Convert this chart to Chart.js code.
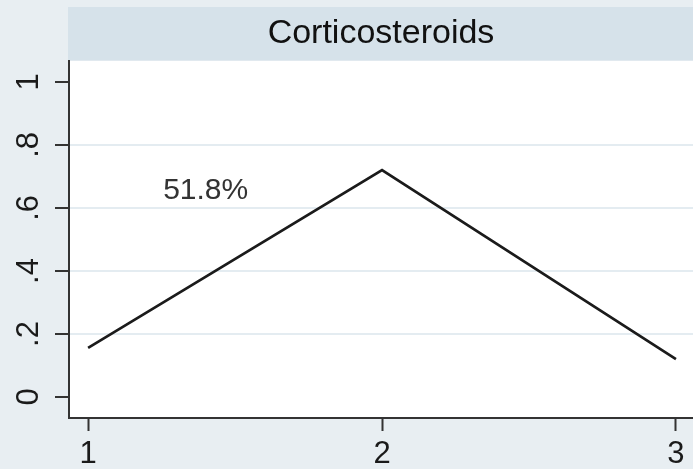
<!DOCTYPE html>
<html><head><meta charset="utf-8">
<script src="https://cdn.jsdelivr.net/npm/chart.js@4/dist/chart.umd.min.js"></script>
<style>html,body{margin:0;padding:0;background:#e8eef2;overflow:hidden}#wrap{width:693px;height:469px}</style>
</head><body><div id="wrap"><canvas id="c" width="693" height="469"></canvas></div>
<script>
const titleText = "Corticosteroids";
const xValues = [1, 2, 3];
const yValues = [0.156, 0.72, 0.12];
const xTicks = [1, 2, 3];
const xTickLabels = ["1", "2", "3"];
const yTicks = [0, 0.2, 0.4, 0.6, 0.8, 1];
const yTickLabels = ["0", ".2", ".4", ".6", ".8", "1"];
const annotationText = ["51.8%"];
const annotationX = [1.40];
const annotationY = [0.655];

const FONT = "'Liberation Sans', Arial, Helvetica, sans-serif";

const bgPlugin = {
  id: 'bg',
  beforeDraw(chart) {
    const {ctx, chartArea: ca} = chart;
    ctx.save();
    ctx.fillStyle = '#e8eef2';
    ctx.fillRect(0, 0, chart.width, chart.height);
    ctx.fillStyle = '#d6e2ea';
    ctx.fillRect(ca.left - 1, 7, chart.width - ca.left + 1, ca.top - 7);
    ctx.fillStyle = '#ffffff';
    ctx.fillRect(ca.left, ca.top, ca.right - ca.left, ca.bottom - ca.top);
    ctx.restore();
  }
};

const annotPlugin = {
  id: 'annot',
  afterDatasetsDraw(chart) {
    const {ctx, scales} = chart;
    ctx.save();
    ctx.font = '30px ' + FONT;
    ctx.fillStyle = '#333333';
    ctx.textAlign = 'center';
    ctx.textBaseline = 'middle';
    annotationText.forEach((t, i) => {
      ctx.fillText(t, scales.x.getPixelForValue(annotationX[i]), scales.y.getPixelForValue(annotationY[i]));
    });
    ctx.restore();
  }
};

new Chart(document.getElementById('c'), {
  type: 'line',
  data: {
    datasets: [{
      data: xValues.map((x, i) => ({x: x, y: yValues[i]})),
      borderColor: '#1b1b1b',
      borderWidth: 2.7,
      pointRadius: 0,
      tension: 0,
      fill: false
    }]
  },
  options: {
    responsive: false,
    devicePixelRatio: 1,
    animation: false,
    layout: {padding: 0},
    plugins: {
      legend: {display: false},
      tooltip: {enabled: false},
      title: {
        display: true,
        text: titleText,
        fullSize: false,
        color: '#111111',
        font: {size: 34, family: FONT, weight: 'normal'},
        padding: {top: 13, bottom: 7}
      }
    },
    scales: {
      x: {
        type: 'linear',
        position: 'bottom',
        min: 0.935,
        max: 3.058,
        afterBuildTicks: s => { s.ticks = xTicks.map(v => ({value: v})); },
        afterFit: s => { s.height = 51; },
        ticks: {
          autoSkip: false, maxRotation: 0, minRotation: 0,
          color: '#1a1a1a',
          font: {size: 31, family: FONT},
          padding: 5,
          callback: (v) => xTickLabels[xTicks.indexOf(v)]
        },
        grid: {drawOnChartArea: false, drawTicks: true, tickLength: 13, tickColor: '#333333', tickWidth: 2},
        border: {display: true, color: '#333333', width: 2}
      },
      y: {
        type: 'linear',
        position: 'left',
        min: -0.0667,
        max: 1.067,
        afterBuildTicks: s => { s.ticks = yTicks.map(v => ({value: v})); },
        afterFit: s => { s.width = 69; },
        ticks: {
          autoSkip: false, minRotation: 90, maxRotation: 90,
          crossAlign: 'center',
          color: '#1a1a1a',
          font: {size: 31, family: FONT},
          padding: 13,
          callback: (v) => yTickLabels[yTicks.indexOf(v)]
        },
        grid: {
          color: ctx => (ctx.tick && (ctx.tick.value === 0 || ctx.tick.value === 1)) ? 'rgba(0,0,0,0)' : '#e4ecf1',
          lineWidth: 2,
          tickLength: 14,
          tickColor: '#333333',
          tickWidth: 2
        },
        border: {display: true, color: '#333333', width: 2}
      }
    }
  },
  plugins: [bgPlugin, annotPlugin]
});
</script></body></html>
